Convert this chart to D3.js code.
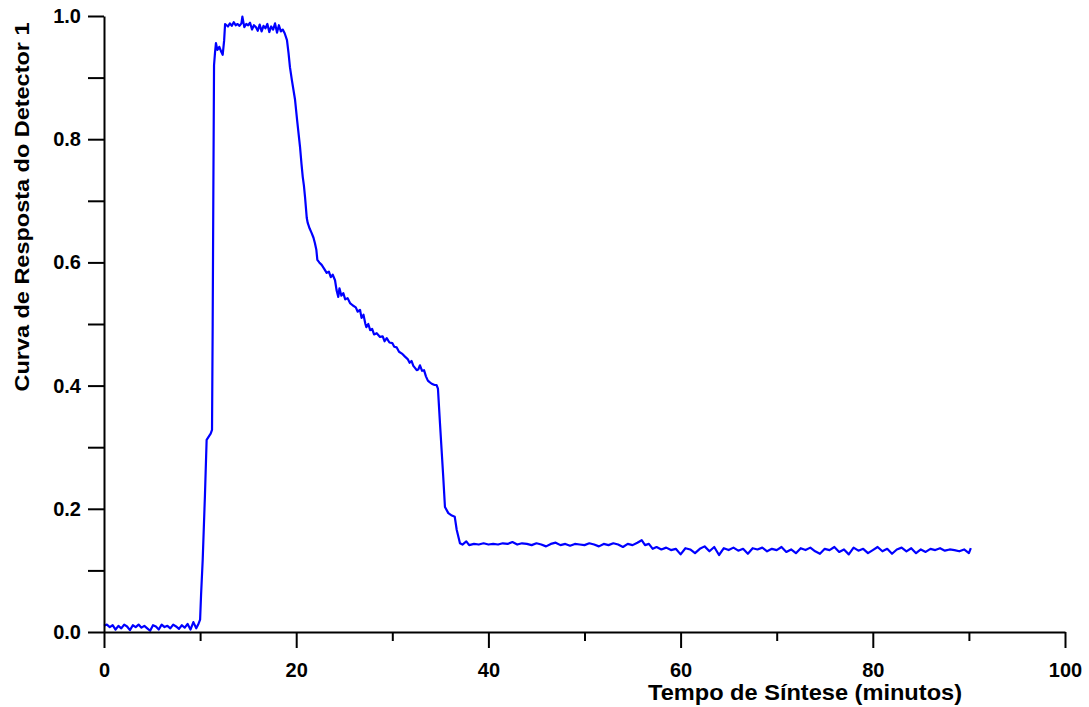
<!DOCTYPE html>
<html>
<head>
<meta charset="utf-8">
<script src="https://cdn.jsdelivr.net/npm/d3@7"></script>
<style>
  body { margin: 0; background: #fff; }
  svg text { font-family: "Liberation Sans", Arial, Helvetica, sans-serif; font-weight: bold; fill: #000; }
</style>
</head>
<body>
<svg id="chart" width="1089" height="707"></svg>
<script>
// tempo (minutos) e resposta do detector
const tempo = [
  0, 0.3, 0.6, 0.9, 1.2, 1.5, 1.8, 2.1, 2.4, 2.7, 3.0, 3.3, 3.6, 3.9, 4.2, 4.5, 4.8, 5.1, 5.4, 5.7,
  6.0, 6.3, 6.6, 6.9, 7.2, 7.5, 7.8, 8.1, 8.4, 8.7, 9.0, 9.3, 9.6, 9.8, 10.0,
  10.1, 10.27, 10.5, 10.68, 10.93, 11.1, 11.24, 11.31, 11.38, 11.45, 11.55, 11.65, 11.8, 12.0, 12.2, 12.35, 12.5, 12.6,
  12.9, 13.1, 13.3, 13.5, 13.7, 13.9, 14.1, 14.3, 14.4, 14.6, 14.8, 15.0, 15.2, 15.4, 15.6, 15.8, 16.0, 16.2, 16.4,
  16.6, 16.8, 17.0, 17.2, 17.4, 17.6, 17.8, 18.0, 18.2, 18.4, 18.6, 18.8, 19.04,
  19.2, 19.35, 19.55, 19.88, 20.1, 20.4, 20.55, 20.68, 20.8, 20.92, 21.1, 21.2, 21.4, 21.6, 21.8, 21.95, 22.1, 22.2,
  22.4, 22.65, 22.9, 23.17, 23.4, 23.6, 23.8, 24.04, 24.2, 24.38, 24.5, 24.7, 24.9, 25.1, 25.35, 25.6, 25.9, 26.2,
  26.4, 26.64, 26.8, 27.0, 27.2, 27.3, 27.5, 27.7, 27.9, 28.1, 28.38, 28.72, 29.0, 29.2, 29.42, 29.7, 30.0, 30.2,
  30.46, 30.7, 31.0, 31.32, 31.6, 31.8, 32.0, 32.19, 32.4, 32.54, 32.7, 32.88, 33.1, 33.3, 33.5, 33.7, 33.85, 34.1,
  34.4, 34.6, 34.75, 34.96, 35.3, 35.48, 35.83, 36.2, 36.5, 36.7, 37.04, 37.3, 37.7, 38.0,
  38.5, 39, 39.5, 40, 40.5, 41, 41.5, 42, 42.5, 43, 43.5, 44, 44.5, 45, 45.5, 46, 46.5, 47, 47.5, 48, 48.5, 49,
  49.5, 50, 50.5, 51, 51.5, 52, 52.5, 53, 53.5, 54, 54.5, 55, 55.5, 55.95, 56.3, 56.7, 57.1, 57.5, 58, 58.5, 59,
  59.5, 60, 60.5, 61, 61.5, 62, 62.5, 63, 63.5, 64, 64.5, 65, 65.5, 66, 66.5, 67, 67.5, 68, 68.5, 69, 69.5, 70,
  70.5, 71, 71.5, 72, 72.5, 73, 73.5, 74, 74.5, 75, 75.5, 76, 76.5, 77, 77.5, 78, 78.5, 79, 79.5, 80, 80.5, 81,
  81.5, 82, 82.5, 83, 83.5, 84, 84.5, 85, 85.5, 86, 86.5, 87, 87.5, 88, 88.5, 89, 89.5, 90, 90.2
];
const resposta = [
  0.010, 0.012, 0.008, 0.011, 0.004, 0.010, 0.006, 0.012, 0.009, 0.003, 0.011, 0.008, 0.012, 0.007, 0.010, 0.006, 0.002, 0.011, 0.009, 0.004,
  0.012, 0.008, 0.010, 0.006, 0.012, 0.009, 0.005, 0.011, 0.007, 0.013, 0.004, 0.016, 0.006, 0.012, 0.020,
  0.060, 0.117, 0.220, 0.312, 0.318, 0.322, 0.328, 0.500, 0.720, 0.920, 0.940, 0.956, 0.945, 0.950, 0.942, 0.937, 0.960, 0.987,
  0.983, 0.988, 0.984, 0.990, 0.985, 0.987, 0.984, 0.988, 0.999, 0.982, 0.987, 0.985, 0.989, 0.978, 0.985, 0.982, 0.976, 0.986, 0.975,
  0.984, 0.980, 0.987, 0.974, 0.983, 0.978, 0.988, 0.973, 0.985, 0.975, 0.978, 0.972, 0.961,
  0.940, 0.917, 0.896, 0.864, 0.830, 0.787, 0.760, 0.739, 0.725, 0.706, 0.672, 0.664, 0.655, 0.648, 0.640, 0.631, 0.620, 0.604,
  0.600, 0.596, 0.590, 0.583, 0.585, 0.576, 0.580, 0.571, 0.555, 0.544, 0.558, 0.546, 0.550, 0.540, 0.542, 0.534, 0.530, 0.527,
  0.520, 0.523, 0.510, 0.515, 0.500, 0.495, 0.500, 0.490, 0.492, 0.483, 0.485, 0.479, 0.480, 0.472, 0.477, 0.470, 0.469, 0.463,
  0.462, 0.455, 0.452, 0.447, 0.443, 0.437, 0.440, 0.432, 0.428, 0.425, 0.426, 0.433, 0.424, 0.425, 0.415, 0.408, 0.406, 0.403,
  0.401, 0.401, 0.395, 0.339, 0.252, 0.203, 0.193, 0.189, 0.187, 0.166, 0.144, 0.142, 0.147, 0.141,
  0.143, 0.142, 0.144, 0.142, 0.143, 0.142, 0.144, 0.143, 0.146, 0.142, 0.144, 0.143, 0.141, 0.144, 0.142, 0.139, 0.143, 0.145, 0.141, 0.143, 0.140, 0.143,
  0.142, 0.141, 0.144, 0.142, 0.139, 0.143, 0.141, 0.144, 0.142, 0.138, 0.143, 0.141, 0.145, 0.149, 0.141, 0.143, 0.135, 0.138, 0.134, 0.137, 0.133,
  0.135, 0.126, 0.136, 0.134, 0.128, 0.135, 0.139, 0.131, 0.138, 0.125, 0.136, 0.133, 0.137, 0.132, 0.135, 0.127, 0.136, 0.134, 0.137, 0.131, 0.135, 0.133,
  0.138, 0.130, 0.134, 0.128, 0.136, 0.133, 0.137, 0.131, 0.127, 0.135, 0.133, 0.138, 0.130, 0.134, 0.126, 0.137, 0.132, 0.135, 0.128, 0.133, 0.138, 0.131,
  0.135, 0.127, 0.134, 0.137, 0.131, 0.136, 0.128, 0.134, 0.130, 0.135, 0.133, 0.136, 0.132, 0.134, 0.133, 0.131, 0.134, 0.128, 0.136
];

const xMajor = [0, 20, 40, 60, 80, 100];
const xMinor = [10, 30, 50, 70, 90];
const yTicks = [0, 0.1, 0.2, 0.3, 0.4, 0.5, 0.6, 0.7, 0.8, 0.9, 1.0];
const yLabeled = [0, 0.2, 0.4, 0.6, 0.8, 1.0];

const svg = d3.select("#chart");

const x = d3.scaleLinear().domain([0, 100]).range([104, 1065]);
const y = d3.scaleLinear().domain([0, 1]).range([632, 16]);

const data = tempo.map((t, i) => [t, resposta[i]]);

// curva
const line = d3.line()
  .x(d => x(d[0]))
  .y(d => y(d[1]));

svg.append("path")
  .datum(data)
  .attr("fill", "none")
  .attr("stroke", "#0000ff")
  .attr("stroke-width", 2.2)
  .attr("stroke-linejoin", "round")
  .attr("d", line);

// eixo x - menores
svg.append("g")
  .attr("transform", "translate(0,632)")
  .call(d3.axisBottom(x).tickValues(xMinor).tickSize(9).tickSizeOuter(0).tickFormat(""))
  .call(g => g.select(".domain").remove());

// eixo x - maiores
svg.append("g")
  .attr("class", "xaxis")
  .attr("transform", "translate(0,632)")
  .call(d3.axisBottom(x).tickValues(xMajor).tickSize(16).tickSizeOuter(0).tickPadding(15).tickFormat(d3.format("d")));

// eixo y
svg.append("g")
  .attr("class", "yaxis")
  .attr("transform", "translate(104,0)")
  .call(d3.axisLeft(y).tickValues(yTicks).tickSize(16).tickSizeOuter(0).tickPadding(7)
    .tickFormat(d => yLabeled.some(v => Math.abs(v - d) < 1e-9) ? d3.format(".1f")(d) : ""));

svg.selectAll(".xaxis, .yaxis")
  .selectAll("text")
  .attr("font-size", 20)
  .attr("font-family", "'Liberation Sans', Arial, sans-serif")
  .attr("font-weight", "bold")
  .attr("fill", "#000");

svg.selectAll("g .domain, g .tick line")
  .attr("stroke", "#000")
  .attr("stroke-width", 2);

// títulos
svg.append("text")
  .attr("x", 805)
  .attr("y", 700)
  .attr("text-anchor", "middle")
  .attr("font-size", 22)
  .attr("textLength", 314)
  .attr("lengthAdjust", "spacingAndGlyphs")
  .text("Tempo de Síntese (minutos)");

svg.append("text")
  .attr("transform", "translate(29,207) rotate(-90)")
  .attr("text-anchor", "middle")
  .attr("font-size", 21)
  .attr("textLength", 369)
  .attr("lengthAdjust", "spacingAndGlyphs")
  .text("Curva de Resposta do Detector 1");
</script>
</body>
</html>
